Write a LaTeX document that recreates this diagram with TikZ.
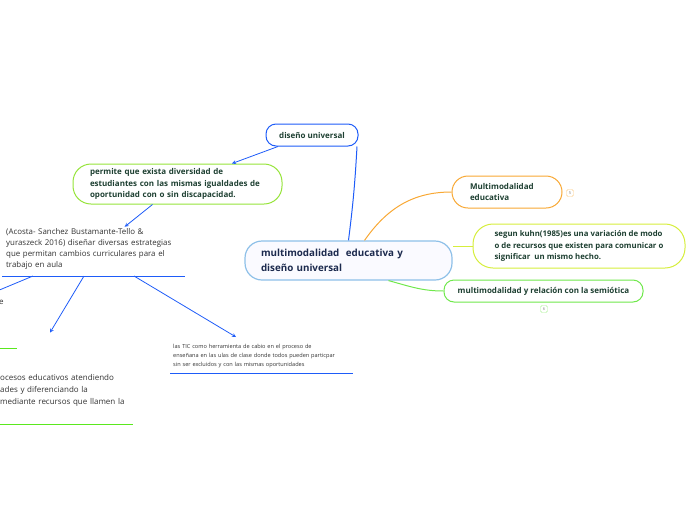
\documentclass[tikz,border=0pt]{standalone}
\usepackage{fontspec}
\setmainfont{Open Sans}
\usetikzlibrary{positioning}

\definecolor{ublue}{RGB}{30,92,248}
\definecolor{lblue}{RGB}{142,192,232}
\definecolor{lime}{RGB}{150,228,58}
\definecolor{orng}{RGB}{248,168,52}
\definecolor{ygreen}{RGB}{214,238,60}
\definecolor{mgreen}{RGB}{112,232,76}
\definecolor{bgreen}{RGB}{90,232,30}
\definecolor{ink}{RGB}{30,64,50}
\definecolor{navy}{RGB}{28,42,78}
\definecolor{greytext}{RGB}{50,50,50}

\begin{document}
\begin{tikzpicture}[
        x=1pt, y=-1pt,
        pill/.style={draw, line width=1pt, fill=white, inner ysep=0pt,
                     align=left, text=ink, font=\bfseries\fontsize{8}{11.8}\selectfont},
        plain/.style={align=left, text=greytext, inner sep=0pt},
        badge/.style={draw, rounded corners=1.5pt, minimum size=7pt, inner sep=0pt,
                      text=gray, font=\fontsize{4}{4}\selectfont},
        arr/.style={->, >=stealth, ublue, line width=0.8pt},
        link/.style={line width=1pt},
    ]
    \useasboundingbox (0,0) rectangle (696,520);

    % --- centro ---
    \node[pill, draw=lblue, line width=1.2pt, fill=blue!2, rounded corners=17pt,
          minimum width=207pt, minimum height=39pt, inner xsep=16pt, text width=175pt,
          text=navy, font=\bfseries\fontsize{9.8}{15}\selectfont]
          (central) at (348.5,260.5) {multimodalidad\ \ educativa y\\diseño universal};

    % --- rama izquierda ---
    \node[pill, draw=ublue, rounded corners=10pt, minimum width=92pt, minimum height=22pt,
          align=center] (diseno) at (312,135) {diseño universal};
    \node[pill, draw=lime, rounded corners=18pt, minimum width=209pt, minimum height=40pt,
          inner xsep=17pt, text width=175pt] (permite) at (177.5,184)
          {permite que exista diversidad de\\estudiantes con las mismas igualdades de\\oportunidad con o sin discapacidad.};
    \node[plain, anchor=south west, text width=183pt, inner ysep=6pt,
          font=\fontsize{7.9}{11.3}\selectfont] (acosta) at (2,276)
          {\hspace*{4pt}(Acosta- Sanchez Bustamante-Tello \&\\\hspace*{4pt}yuraszeck 2016) diseñar diversas estrategias\\\hspace*{4pt}que  permitan cambios curriculares para el\\\hspace*{4pt}trabajo en aula};
    \node[plain, anchor=west, font=\fontsize{8}{12}\selectfont] (eletter) at (-1,302) {e};
    \node[plain, anchor=south west, text width=133pt, inner ysep=17pt,
          font=\fontsize{8}{12}\selectfont] (procesos) at (0,424)
          {ocesos educativos atendiendo\\ades y diferenciando la\\mediante recursos que llamen la};
    \node[plain, anchor=south west, text width=183pt, inner xsep=0pt, inner ysep=5pt,
          font=\fontsize{5.6}{9}\selectfont] (tic) at (170,373)
          {\hspace*{3pt}las TIC como herramienta de cabio en el proceso de\\\hspace*{3pt}enseñana en las ulas de clase donde todos pueden particpar\\\hspace*{3pt}sin ser excluidos y con las mismas oportunidades};
    \coordinate (offleft) at (-3,291);

    % --- rama derecha ---
    \node[pill, draw=orng, rounded corners=16pt, minimum width=110pt, minimum height=32pt,
          inner xsep=18pt, text width=74pt] (multi) at (507,192) {Multimodalidad\\educativa};
    \node[pill, draw=ygreen, rounded corners=20pt, minimum width=212pt, minimum height=44pt,
          inner xsep=10pt, font=\bfseries\fontsize{7.8}{11.6}\selectfont] (kuhn) at (579,246)
          {segun kuhn(1985)es una variación de modo\\o de recursos que existen para comunicar o\\significar\ \ un mismo hecho.};
    \node[pill, draw=mgreen, rounded corners=10pt, minimum width=199pt, minimum height=22pt,
          align=center] (semio) at (543.5,291) {multimodalidad y relación con la semiótica};
    \node[badge, draw=orng!60] (badgefive) at (570,193) {5};
    \node[badge, draw=mgreen!60] (badgesix) at (544,309) {6};

    % --- subrayados ---
    \draw[ublue, line width=1pt] (acosta.south west) -- (acosta.south east);
    \draw[ublue, line width=1pt] (tic.south west) -- (tic.south east);
    \draw[bgreen, line width=1pt] (procesos.south west) -- (procesos.south east);
    \draw[bgreen, line width=1pt] (-5,348) -- (17,348);

    % --- conexiones ---
    \draw[link, ublue] (central.north) to[bend right=2] ([xshift=-1.5pt]diseno.south east);
    \draw[arr] ([xshift=-34pt]diseno.south) -- ([xshift=54.5pt]permite.north);
    \draw[arr] ([xshift=-25pt]permite.south) -- ([xshift=31pt,yshift=-5pt]acosta.north);
    \draw[link, ublue, line width=0.8pt] ([xshift=31pt]acosta.south west) -- (offleft);
    \draw[arr] ([xshift=82pt]acosta.south west) -- ([xshift=50pt,yshift=25pt]procesos.north west);
    \draw[arr] ([xshift=132pt]acosta.south west) -- ([xshift=66pt,yshift=2pt]tic.north west);
    \draw[link, orng] ([xshift=16pt]central.north) to[out=55, in=180] (multi.west);
    \draw[link, ygreen] (kuhn.west) -- (kuhn.west -| central.east);
    \draw[link, mgreen] ([xshift=40pt]central.south) to[out=-15, in=180] (semio.west);
\end{tikzpicture}
\end{document}
